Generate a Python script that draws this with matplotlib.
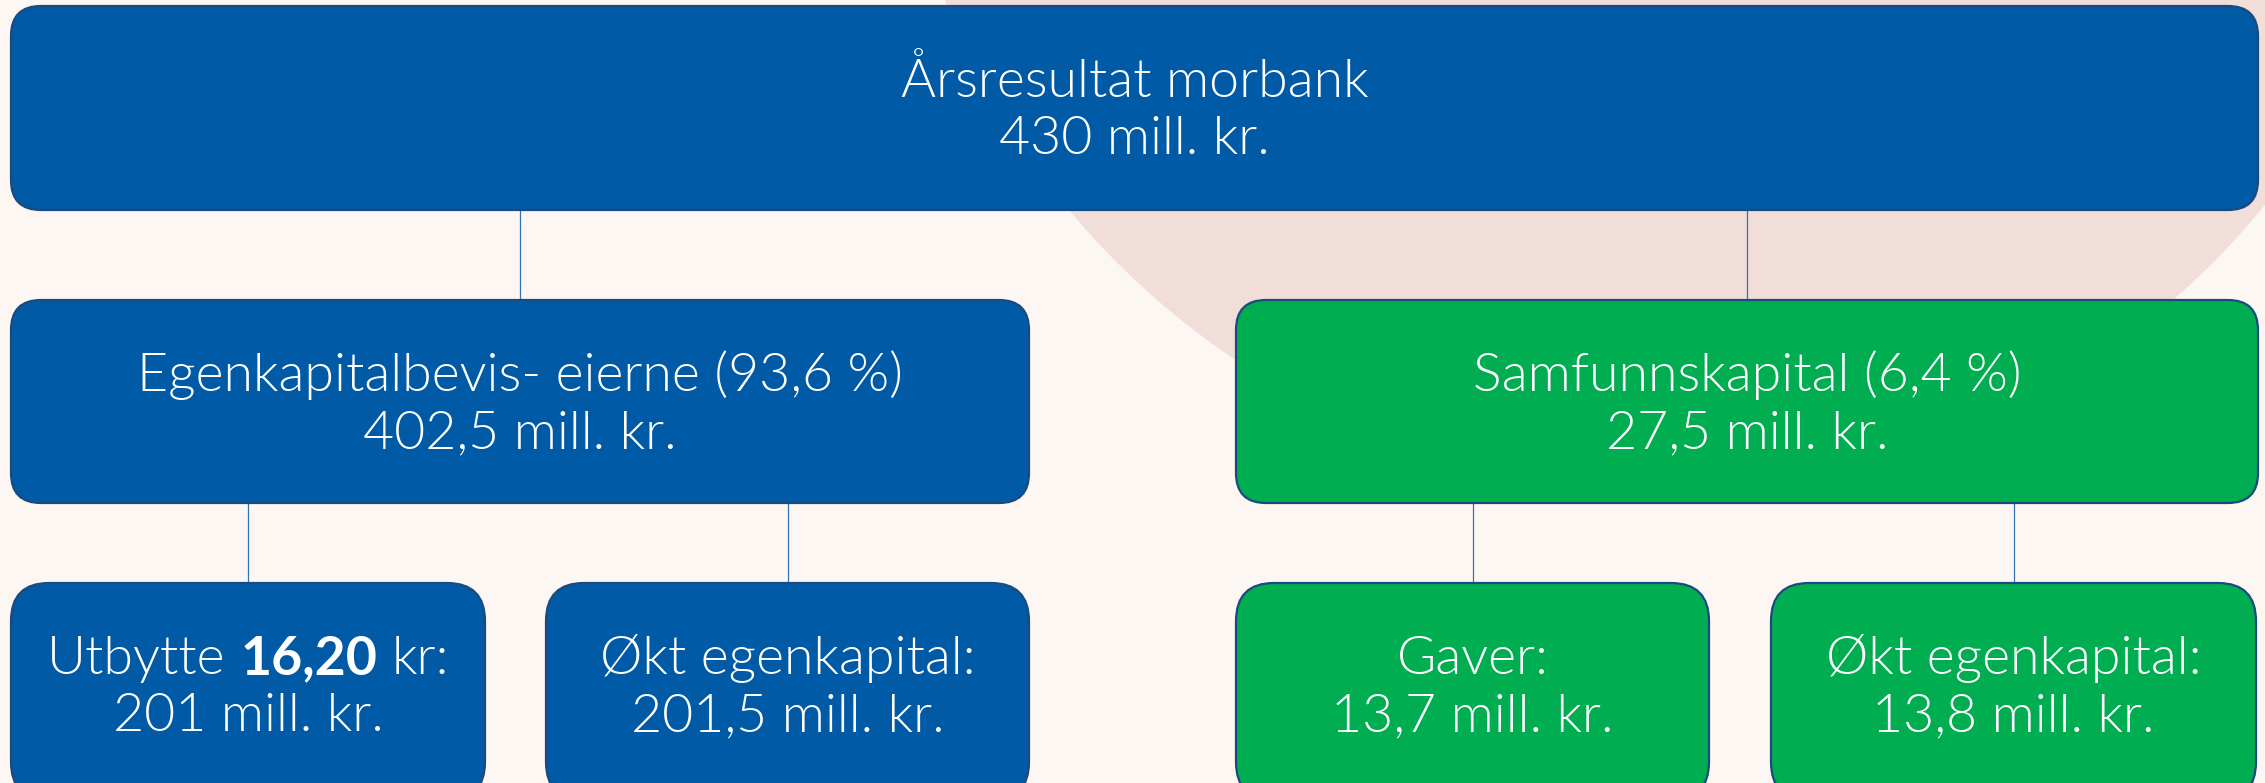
import matplotlib.pyplot as plt
from matplotlib.patches import FancyBboxPatch, Circle

# chart content
top_label = "Årsresultat morbank"
top_value = "430 mill. kr."
mid_labels = ["Egenkapitalbevis- eierne (93,6 %)", "Samfunnskapital (6,4 %)"]
mid_values = ["402,5 mill. kr.", "27,5 mill. kr."]
bottom_labels = ["Utbytte 16,20 kr:", "Økt egenkapital:", "Gaver:", "Økt egenkapital:"]
bottom_values = ["201 mill. kr.", "201,5 mill. kr.", "13,7 mill. kr.", "13,8 mill. kr."]
bold_part = "16,20"
bottom_parent = [0, 0, 1, 1]

BG = "#FDF7F3"
CIRCLE = "#F2DED9"
BLUE = "#005AA5"
GREEN = "#00AD50"
EDGE = "#1A4A80"
LINE = "#2E74B5"
FONT = "Lato"
LIGHT = 300

W, H = 2265, 783
fig = plt.figure(figsize=(W / 100, H / 100), dpi=100)
fig.patch.set_facecolor(BG)
ax = fig.add_axes([0, 0, 1, 1])
ax.set_xlim(0, W)
ax.set_ylim(H, 0)
ax.axis("off")
ax.set_facecolor(BG)
renderer = fig.canvas.get_renderer()

# soft background circle
ax.add_patch(Circle((1665, -284), 774, color=CIRCLE, zorder=0, lw=0))

# box geometry (x0, x1, y0, y1)
top_box = (11, 2258, 6, 210)
mid_boxes = [(11, 1029, 300, 503), (1236, 2258, 300, 503)]
bottom_boxes = [(11, 485, 583, 800), (546, 1029, 583, 800),
                (1236, 1709, 583, 800), (1771, 2256, 583, 800)]
mid_colors = [BLUE, GREEN]
bottom_colors = [BLUE, BLUE, GREEN, GREEN]


def width_of(s, fs, weight):
    t = ax.text(0, 0, s, fontsize=fs, family=FONT, weight=weight)
    w = t.get_window_extent(renderer).width
    t.remove()
    return w


# pick font size so the title matches the reference width
fs = 30 * 467 / width_of(top_label, 30, LIGHT)


def draw_box(b, color, radius):
    x0, x1, y0, y1 = b
    ax.add_patch(FancyBboxPatch((x0, y0), x1 - x0, y1 - y0,
                                boxstyle=f"round,pad=0,rounding_size={radius}",
                                fc=color, ec=EDGE, lw=1.6, zorder=3))


def draw_line(s, cx, y):
    if bold_part and bold_part in s:
        before, after = s.split(bold_part)
        parts = [(before.strip(), LIGHT), (bold_part, "bold"), (after.strip(), LIGHT)]
        sp = width_of("n n", fs, LIGHT) - width_of("nn", fs, LIGHT)
        widths = [width_of(p, fs, wt) for p, wt in parts]
        total = sum(widths) + sp * 2
        x = cx - total / 2
        for (p, wt), w in zip(parts, widths):
            ax.text(x, y, p, fontsize=fs, family=FONT, weight=wt, color="white",
                    ha="left", va="baseline", zorder=5)
            x += w + sp
    else:
        ax.text(cx, y, s, fontsize=fs, family=FONT, weight=LIGHT, color="white",
                ha="center", va="baseline", zorder=5)


def draw_node(b, color, label, value, radius):
    draw_box(b, color, radius)
    cx = (b[0] + b[1]) / 2
    draw_line(label, cx, b[2] + 91)
    draw_line(value, cx, b[2] + 148)


def connect(parent, child):
    x = (child[0] + child[1]) / 2
    ax.plot([x, x], [parent[3], child[2]], color=LINE, lw=0.9, zorder=1)


# connectors: each child hangs from the middle of its own box
for b in mid_boxes:
    connect(top_box, b)
for i, b in enumerate(bottom_boxes):
    connect(mid_boxes[bottom_parent[i]], b)

draw_node(top_box, BLUE, top_label, top_value, 30)
for b, c, lab, val in zip(mid_boxes, mid_colors, mid_labels, mid_values):
    draw_node(b, c, lab, val, 30)
for b, c, lab, val in zip(bottom_boxes, bottom_colors, bottom_labels, bottom_values):
    draw_node(b, c, lab, val, 38)

fig.savefig("out.png", dpi=100, facecolor=BG)
